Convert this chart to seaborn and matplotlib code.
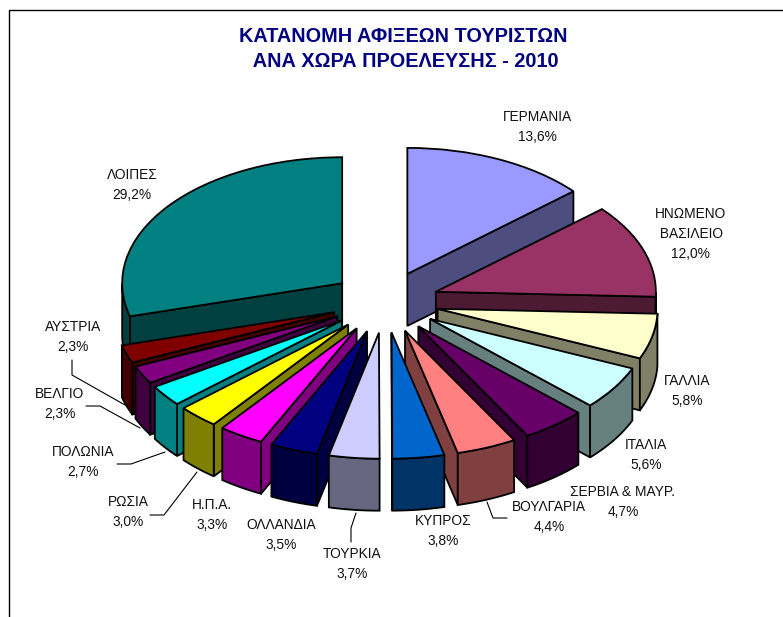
"""Tourist arrivals by country of origin, exploded 3D style pie."""
import numpy as np
import matplotlib
matplotlib.use('Agg')
import matplotlib.pyplot as plt
import seaborn as sns

TITLE = 'ΚΑΤΑΝΟΜΗ ΑΦΙΞΕΩΝ ΤΟΥΡΙΣΤΩΝ\n ΑΝΑ ΧΩΡΑ ΠΡΟΕΛΕΥΣΗΣ - 2010'

countries = ['ΓΕΡΜΑΝΙΑ', 'ΗΝΩΜΕΝΟ\n ΒΑΣΙΛΕΙΟ', 'ΓΑΛΛΙΑ', 'ΙΤΑΛΙΑ', 'ΣΕΡΒΙΑ & ΜΑΥΡ.',
             'ΒΟΥΛΓΑΡΙΑ', 'ΚΥΠΡΟΣ', 'ΤΟΥΡΚΙΑ', 'ΟΛΛΑΝΔΙΑ', 'Η.Π.Α.', 'ΡΩΣΙΑ',
             'ΠΟΛΩΝΙΑ', 'ΒΕΛΓΙΟ', 'ΑΥΣΤΡΙΑ', 'ΛΟΙΠΕΣ']
shares = [13.6, 12.0, 5.8, 5.6, 4.7, 4.4, 3.8, 3.7, 3.5, 3.3, 3.0, 2.7, 2.3, 2.3, 29.2]
slice_colors = ['#9999FF', '#993366', '#FFFFCC', '#CCFFFF', '#660066',
                '#FF8080', '#0066CC', '#CCCCFF', '#000080', '#FF00FF',
                '#FFFF00', '#00FFFF', '#800080', '#800000', '#008080']

# label centres in image pixels
label_x = [537, 690, 687, 646, 623, 549, 443, 352, 281, 212, 128, 83, 60, 73, 132]
label_y = [127, 234, 391, 455, 502, 517, 531, 564, 535, 515, 512, 462, 404, 337, 185]

# leader lines in image pixels
leaders = [
    [(72, 360), (72, 375), (125, 405)],
    [(86, 406), (100, 406), (140, 428)],
    [(117, 464), (131, 464), (165, 452)],
    [(150, 515), (164, 515), (197, 472)],
    [(351, 542), (351, 528), (356, 513)],
    [(507, 518), (493, 518), (487, 502)],
]

WIDTH, HEIGHT = 783, 617
CX, CY = 385, 302      # pie centre in pixels
RX, RY = 220, 126      # pie radii in pixels
DEPTH = 52 / RY        # wall height in y data units
EXPLODE = 0.245
LINE_STEP = 20         # pixels between label lines

sns.set_theme(style='white')
plt.rcParams['font.family'] = ['Liberation Sans', 'DejaVu Sans']

tops = sns.color_palette(slice_colors)
walls = [tuple(c * 0.5 for c in col) for col in tops]

fig = plt.figure(figsize=(WIDTH / 100, HEIGHT / 100), dpi=100)
ax = fig.add_axes([0, 0, 1, 1])

wedges, _ = ax.pie(
    shares,
    colors=tops,
    explode=[EXPLODE] * len(shares),
    startangle=90,
    counterclock=False,
    wedgeprops={'edgecolor': 'black', 'linewidth': 1.3},
)

# the pie is flattened by letting the axes scale x and y differently
ax.set_aspect('auto')
ax.set_xlim(-CX / RX, (WIDTH - CX) / RX)
ax.set_ylim(-(HEIGHT - CY) / RY, CY / RY)
ax.axis('off')


def add_wall(xs, ys, color, zorder):
    """Extrude a top edge downwards into a closed wall."""
    xs, ys = np.asarray(xs), np.asarray(ys)
    ax.fill(
        np.r_[xs, xs[::-1]],
        np.r_[ys, ys[::-1] - DEPTH],
        facecolor=color,
        edgecolor='black',
        linewidth=1.3,
        joinstyle='miter',
        zorder=zorder,
    )


# back slices first, so the front ones cover them
order = sorted(range(len(wedges)), key=lambda i: -wedges[i].center[1])
for rank, i in enumerate(order):
    wedge = wedges[i]
    cx, cy = wedge.center
    t1, t2 = wedge.theta1, wedge.theta2
    z = 2 * rank + 2
    wedge.set_zorder(z + 1)

    # straight cut faces, only those that face the viewer
    for angle, normal in ((t1, t1 - 90), (t2, t2 + 90)):
        if np.sin(np.radians(normal)) < 0:
            rim = (cx + np.cos(np.radians(angle)), cy + np.sin(np.radians(angle)))
            add_wall([cx, rim[0]], [cy, rim[1]], walls[i], z)

    # rim face
    theta = np.radians(np.linspace(t1, t2, 240))
    front = np.sin(theta) < 0
    if front.any():
        add_wall(cx + np.cos(theta[front]), cy + np.sin(theta[front]), walls[i], z)


def to_fig(x, y):
    return x / WIDTH, 1 - y / HEIGHT


# each label line is its own text, the Serbia and Bulgaria blocks interlock
for name, value, x, y in zip(countries, shares, label_x, label_y):
    lines = name.split('\n') + [f'{value:.1f}%'.replace('.', ',')]
    top = y - LINE_STEP * (len(lines) - 1) / 2
    for k, text in enumerate(lines):
        fx, fy = to_fig(x, top + k * LINE_STEP)
        fig.text(fx, fy, text, ha='center', va='center', fontsize=9.9, color='#111111')

for line in leaders:
    pts = [to_fig(*p) for p in line]
    fig.add_artist(plt.Line2D([p[0] for p in pts], [p[1] for p in pts],
                              color='black', linewidth=0.8))

fx, fy = to_fig(403, 49)
fig.text(fx, fy, TITLE, ha='center', va='center', fontsize=14.3, fontweight='bold',
         color='#000080', linespacing=1.45)

# chart frame, cut off by the right and bottom of the picture
frame = [to_fig(8.5, HEIGHT), to_fig(8.5, 9.5), to_fig(WIDTH, 9.5)]
fig.add_artist(plt.Line2D([p[0] for p in frame], [p[1] for p in frame],
                          color='black', linewidth=1.0))

fig.savefig('out.png', dpi=100)
